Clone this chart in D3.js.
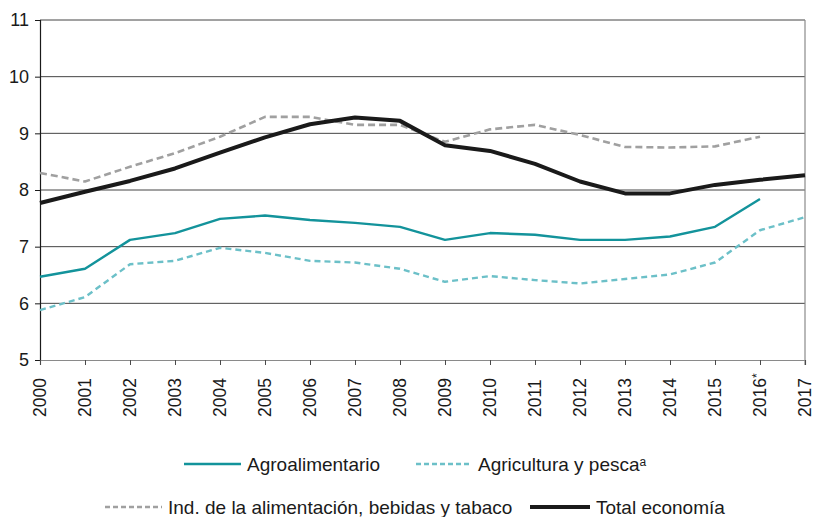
<!DOCTYPE html>
<html>
<head>
<meta charset="utf-8">
<script src="https://cdn.jsdelivr.net/npm/d3@7/dist/d3.min.js"></script>
<style>
  html, body { margin: 0; padding: 0; background: #fff; }
  svg text { font-family: "Liberation Sans", Arial, Helvetica, sans-serif; fill: #1a1a1a; }
</style>
</head>
<body>
<svg id="chart" width="818" height="517"></svg>
<script>
// Years on the x axis (2016 is provisional)
const years = [2000, 2001, 2002, 2003, 2004, 2005, 2006, 2007, 2008,
               2009, 2010, 2011, 2012, 2013, 2014, 2015, 2016, 2017];
const yearLabels = ["2000", "2001", "2002", "2003", "2004", "2005", "2006", "2007", "2008",
                    "2009", "2010", "2011", "2012", "2013", "2014", "2015", "2016", "2017"];
const provisionalYear = 2016;

// Series values (null = no data)
const agroalimentario = [6.47, 6.61, 7.12, 7.24, 7.49, 7.55, 7.47, 7.42, 7.35,
                         7.12, 7.24, 7.21, 7.12, 7.12, 7.18, 7.35, 7.84, null];
const agriculturaPesca = [5.88, 6.11, 6.69, 6.75, 6.98, 6.89, 6.75, 6.72, 6.61,
                          6.38, 6.48, 6.41, 6.35, 6.43, 6.51, 6.72, 7.29, 7.52];
const industriaAlimentacion = [8.30, 8.15, 8.41, 8.65, 8.94, 9.29, 9.29, 9.15, 9.15,
                               8.85, 9.07, 9.15, 8.97, 8.76, 8.75, 8.77, 8.94, null];
const totalEconomia = [7.77, 7.97, 8.16, 8.38, 8.66, 8.93, 9.16, 9.28, 9.22,
                       8.79, 8.69, 8.46, 8.15, 7.94, 7.94, 8.09, 8.18, 8.26];

const yTicks = [5, 6, 7, 8, 9, 10, 11];

const series = [
  { name: "Agroalimentario", values: agroalimentario, color: "#13939b", width: 2.4, dash: null },
  { name: "Agricultura y pesca", sup: "a", values: agriculturaPesca, color: "#6cc0c8", width: 2.4, dash: "6,4" },
  { name: "Ind. de la alimentación, bebidas y tabaco", values: industriaAlimentacion, color: "#a0a0a0", width: 2.6, dash: "7,4" },
  { name: "Total economía", values: totalEconomia, color: "#1a1a1a", width: 4, dash: null }
];

const svg = d3.select("#chart");
const plot = { left: 40, right: 805, top: 20, bottom: 360 };

const x = d3.scaleLinear().domain([2000, 2017]).range([plot.left, plot.right]);
const y = d3.scaleLinear().domain([5, 11]).range([plot.bottom, plot.top]);

// Horizontal gridlines
svg.append("g")
  .selectAll("line")
  .data(yTicks.filter(d => d > 5))
  .join("line")
  .attr("x1", plot.left).attr("x2", plot.right)
  .attr("y1", d => y(d)).attr("y2", d => y(d))
  .attr("stroke", "#444").attr("stroke-width", 1);

// Right frame edge
svg.append("line")
  .attr("x1", plot.right).attr("x2", plot.right)
  .attr("y1", y(11)).attr("y2", plot.bottom + 5)
  .attr("stroke", "#8a8a8a").attr("stroke-width", 1.2);

// Y axis
const yAxis = svg.append("g")
  .attr("transform", `translate(${plot.left},0)`)
  .call(d3.axisLeft(y).tickValues(yTicks).tickSize(5).tickPadding(6).tickFormat(d3.format("d")));
yAxis.select(".domain").attr("stroke", "#1a1a1a").attr("stroke-width", 1.2);
yAxis.selectAll(".tick line").attr("stroke", "#1a1a1a");
yAxis.selectAll("text")
  .style("font-size", "18px")
  .style("font-family", "'Liberation Sans', Arial, sans-serif")
  .attr("fill", "#1a1a1a");

// X axis
const xAxis = svg.append("g")
  .attr("transform", `translate(0,${plot.bottom})`)
  .call(d3.axisBottom(x).tickValues(years).tickSize(5).tickFormat(""));
xAxis.select(".domain").attr("stroke", "#8a8a8a").attr("stroke-width", 1.2);
xAxis.selectAll(".tick line").attr("stroke", "#4a4a4a");

// Rotated year labels
const xl = svg.append("g")
  .selectAll("text")
  .data(years)
  .join("text")
  .attr("transform", d => `translate(${x(d)},417) rotate(-90)`)
  .attr("dy", "0.35em")
  .attr("text-anchor", "start")
  .style("font-size", "17.5px");
xl.append("tspan").text((d, i) => yearLabels[i]);
xl.filter(d => d === provisionalYear)
  .append("tspan")
  .attr("dy", "-0.45em")
  .style("font-size", "12px")
  .text("*");

// Series lines
const line = d3.line()
  .defined(d => d.v !== null)
  .x(d => x(d.year))
  .y(d => y(d.v));

svg.append("g")
  .selectAll("path")
  .data(series)
  .join("path")
  .attr("d", s => line(years.map((yr, i) => ({ year: yr, v: s.values[i] }))))
  .attr("fill", "none")
  .attr("stroke", s => s.color)
  .attr("stroke-width", s => s.width)
  .attr("stroke-dasharray", s => s.dash)
  .attr("stroke-linejoin", "round");

// Legend
const legendItems = [
  { s: series[0], x: 184, y: 464, len: 57 },
  { s: series[1], x: 416, y: 464, len: 56 },
  { s: series[2], x: 105, y: 507, len: 57 },
  { s: series[3], x: 530, y: 507, len: 60 }
];
const lg = svg.append("g")
  .selectAll("g")
  .data(legendItems)
  .join("g")
  .attr("transform", d => `translate(${d.x},${d.y})`);
lg.append("line")
  .attr("x1", 0).attr("x2", d => d.len)
  .attr("y1", 0).attr("y2", 0)
  .attr("stroke", d => d.s.color)
  .attr("stroke-width", d => d.s.width === 4 ? 4 : 2.4)
  .attr("stroke-dasharray", d => d.s.dash ? "5,3" : null);
const lt = lg.append("text")
  .attr("x", d => d.len + 6)
  .attr("y", 0)
  .attr("dy", "0.35em")
  .style("font-size", "19px");
lt.append("tspan").text(d => d.s.name);
lt.filter(d => d.s.sup)
  .append("tspan")
  .attr("dy", "-0.4em")
  .style("font-size", "12px")
  .text(d => d.s.sup);
</script>
</body>
</html>
